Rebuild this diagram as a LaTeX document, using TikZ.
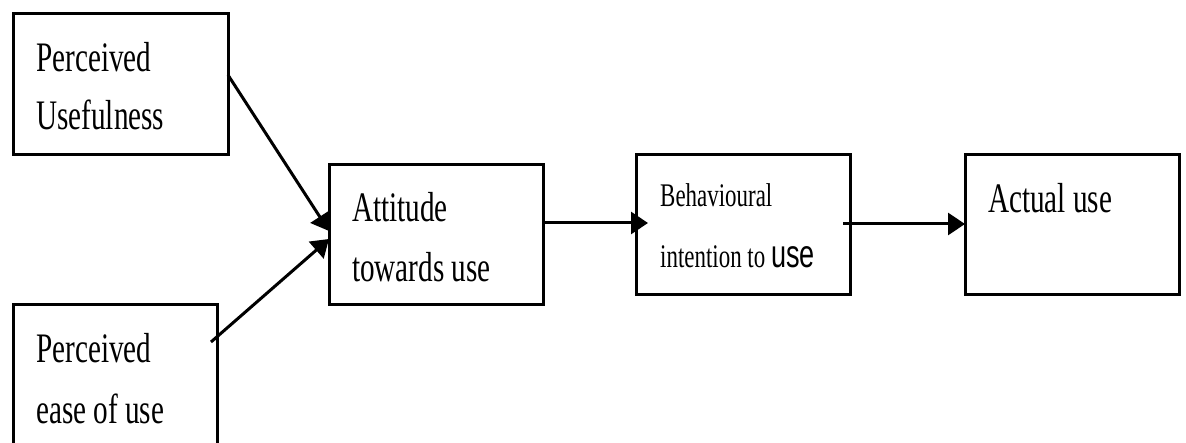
\documentclass[tikz,border=0pt]{standalone}
\usepackage{graphicx}
\usepackage{fontspec}
\setmainfont{Liberation Serif}
\newfontfamily\usesans{Liberation Sans}
\usetikzlibrary{arrows.meta,calc}
\newcommand{\hsq}[1]{\scalebox{0.695}[1]{#1}}
\begin{document}
\begin{tikzpicture}[x=1pt,y=-1pt,
  box/.style={draw, line width=3pt, rectangle, inner sep=0pt, outer sep=0pt, anchor=north west},
  txt/.style={anchor=base west, inner sep=0pt, font=\fontsize{42}{50}\selectfont},
  smalltxt/.style={anchor=base west, inner sep=0pt, font=\fontsize{33}{38}\selectfont},
  arr/.style={line width=3pt, -{Triangle[length=17pt,width=22pt]}}]
\useasboundingbox (0,0) rectangle (1186,443);
\clip (0,0) rectangle (1186,443);
% boxes
\node[box, minimum width=215pt, minimum height=141pt] (pu) at (13,14) {};
\node[box, minimum width=204pt, minimum height=170pt] (peou) at (13,305) {};
\node[box, minimum width=214pt, minimum height=140pt] (att) at (329,165) {};
\node[box, minimum width=214pt, minimum height=140pt] (beh) at (636,155) {};
\node[box, minimum width=214pt, minimum height=140pt] (act) at (965,155) {};
% texts
\node[txt] (pu1) at (36,72) {\hsq{Perceived}};
\node[txt] (pu2) at (36,130) {\hsq{Usefulness}};
\node[txt] (pe1) at (36,363) {\hsq{Perceived}};
\node[txt] (pe2) at (36,423) {\hsq{ease of use}};
\node[txt] (at1) at (352,222) {\hsq{Attitude}};
\node[txt] (at2) at (352,282) {\hsq{towards use}};
\node[smalltxt] (bh1) at (660,207) {\hsq{Behavioural}};
\node[smalltxt] (bh2) at (660,268) {\hsq{intention to \fontsize{39}{44}\usesans use}};
\node[txt] (ac1) at (988,213) {\hsq{Actual use}};
% connectors
\coordinate (a1s) at (228,75);
\coordinate (a1e) at (329,231);
\coordinate (a2s) at (211,342);
\coordinate (a2e) at (329,239);
\coordinate (a3e) at (648,223);
\coordinate (a4s) at (843,224);
\draw[arr] (a1s) -- (a1e);
\draw[arr] (a2s) -- (a2e);
\draw[arr] (att.east |- a3e) -- (a3e);
\draw[arr] (a4s) -- (act.west |- a4s);
\end{tikzpicture}
\end{document}
